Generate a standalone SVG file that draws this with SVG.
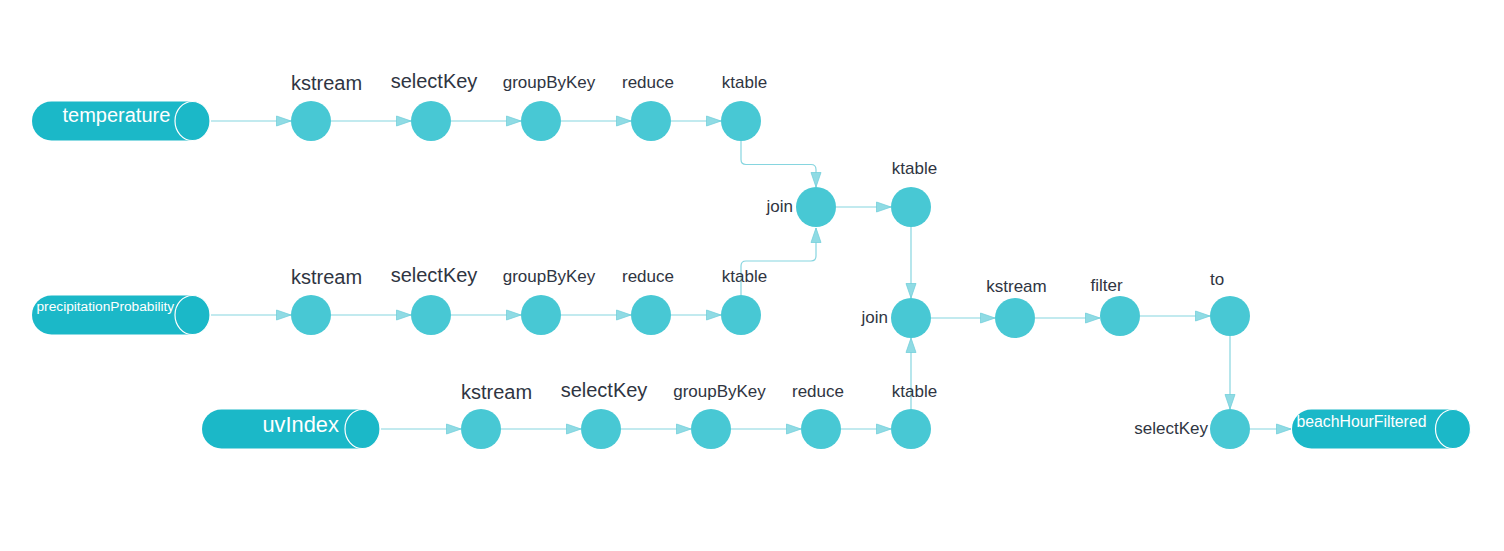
<svg xmlns="http://www.w3.org/2000/svg" width="1504" height="551" viewBox="0 0 1504 551">
<defs>
<marker id="arr" markerUnits="userSpaceOnUse" markerWidth="17" markerHeight="12" refX="15.5" refY="6" orient="auto" viewBox="0 0 17 12">
<path d="M1,1 L15.5,6 L1,11 Z" fill="#8fdbe4" stroke="#74cfdb" stroke-width="0.8"/>
</marker>
<style>
.n{fill:#48c8d4}
.t{fill:#1bb8c8}
.e{fill:#1bb8c8;stroke:#ffffff;stroke-width:1.2}
.c{fill:none;stroke:#86d5df;stroke-width:1.2;marker-end:url(#arr)}
.l{font-family:"Liberation Sans",Arial,sans-serif;fill:#2f3542;font-size:17px;text-anchor:middle}
.lg{font-size:20px}
.r{text-anchor:end}
.w{font-family:"Liberation Sans",Arial,sans-serif;fill:#ffffff}
</style>
</defs>
<rect width="1504" height="551" fill="#ffffff"/>
<g id="connectors">
<path class="c" d="M211 121 H291"/>
<path class="c" d="M331 121 H411"/>
<path class="c" d="M451 121 H521"/>
<path class="c" d="M561 121 H631"/>
<path class="c" d="M671 121 H721"/>
<path class="c" d="M741 141 V159.5 Q741 164.5 746 164.5 H811 Q816 164.5 816 169.5 V187"/>
<path class="c" d="M211 315 H291"/>
<path class="c" d="M331 315 H411"/>
<path class="c" d="M451 315 H521"/>
<path class="c" d="M561 315 H631"/>
<path class="c" d="M671 315 H721"/>
<path class="c" d="M741 295 V266 Q741 261 746 261 H811 Q816 261 816 256 V228"/>
<path class="c" d="M836 207 H891"/>
<path class="c" d="M911 227 V298"/>
<path class="c" d="M381 429 H461"/>
<path class="c" d="M501 429 H581"/>
<path class="c" d="M621 429 H691"/>
<path class="c" d="M731 429 H801"/>
<path class="c" d="M841 429 H891"/>
<path class="c" d="M911 409 V338"/>
<path class="c" d="M931 318 H995"/>
<path class="c" d="M1035 318 H1100"/>
<path class="c" d="M1140 316 H1210"/>
<path class="c" d="M1230 336 V409"/>
<path class="c" d="M1250 429 H1291"/>
</g>
<g id="topic-temperature">
<path class="t" d="M51.5 101.5 H192.5 A17.5 19.5 0 0 1 192.5 140.5 H51.5 A19.5 19.5 0 0 1 51.5 101.5 Z"/>
<ellipse class="e" cx="192.5" cy="121" rx="17.5" ry="19.5"/>
<text class="w" x="62.5" y="122" font-size="20">temperature</text>
</g>
<g id="topic-precipitationProbability">
<path class="t" d="M51.5 295.5 H192.5 A17.5 19.5 0 0 1 192.5 334.5 H51.5 A19.5 19.5 0 0 1 51.5 295.5 Z"/>
<ellipse class="e" cx="192.5" cy="315" rx="17.5" ry="19.5"/>
<text class="w" x="36.5" y="311" font-size="13.7">precipitationProbability</text>
</g>
<g id="topic-uvIndex">
<path class="t" d="M221.5 409.5 H362.5 A17.5 19.5 0 0 1 362.5 448.5 H221.5 A19.5 19.5 0 0 1 221.5 409.5 Z"/>
<ellipse class="e" cx="362.5" cy="429" rx="17.5" ry="19.5"/>
<text class="w" x="262.5" y="432" font-size="21.8">uvIndex</text>
</g>
<g id="topic-beachHourFiltered">
<path class="t" d="M1311.5 409.5 H1453 A17.5 19.5 0 0 1 1453 448.5 H1311.5 A19.5 19.5 0 0 1 1311.5 409.5 Z"/>
<ellipse class="e" cx="1453" cy="429" rx="17.5" ry="19.5"/>
<text class="w" x="1296.5" y="427" font-size="15.8">beachHourFiltered</text>
</g>
<g id="r1-kstream"><circle class="n" cx="311" cy="121" r="20"/><text class="l lg" x="326.5" y="90">kstream</text></g>
<g id="r1-selectKey"><circle class="n" cx="431" cy="121" r="20"/><text class="l lg" x="434" y="88">selectKey</text></g>
<g id="r1-groupByKey"><circle class="n" cx="541" cy="121" r="20"/><text class="l" x="549" y="88">groupByKey</text></g>
<g id="r1-reduce"><circle class="n" cx="651" cy="121" r="20"/><text class="l" x="648" y="88">reduce</text></g>
<g id="r1-ktable"><circle class="n" cx="741" cy="121" r="20"/><text class="l" x="744.5" y="88">ktable</text></g>
<g id="r2-kstream"><circle class="n" cx="311" cy="315" r="20"/><text class="l lg" x="326.5" y="284">kstream</text></g>
<g id="r2-selectKey"><circle class="n" cx="431" cy="315" r="20"/><text class="l lg" x="434" y="282">selectKey</text></g>
<g id="r2-groupByKey"><circle class="n" cx="541" cy="315" r="20"/><text class="l" x="549" y="282">groupByKey</text></g>
<g id="r2-reduce"><circle class="n" cx="651" cy="315" r="20"/><text class="l" x="648" y="282">reduce</text></g>
<g id="r2-ktable"><circle class="n" cx="741" cy="315" r="20"/><text class="l" x="744.5" y="282">ktable</text></g>
<g id="join1"><circle class="n" cx="816" cy="207" r="20"/><text class="l r" x="793" y="212">join</text></g>
<g id="ktable-joined"><circle class="n" cx="911" cy="207" r="20"/><text class="l" x="914.5" y="174">ktable</text></g>
<g id="r3-kstream"><circle class="n" cx="481" cy="429" r="20"/><text class="l lg" x="496.5" y="399">kstream</text></g>
<g id="r3-selectKey"><circle class="n" cx="601" cy="429" r="20"/><text class="l lg" x="604" y="397">selectKey</text></g>
<g id="r3-groupByKey"><circle class="n" cx="711" cy="429" r="20"/><text class="l" x="719.5" y="397">groupByKey</text></g>
<g id="r3-reduce"><circle class="n" cx="821" cy="429" r="20"/><text class="l" x="818" y="397">reduce</text></g>
<g id="r3-ktable"><circle class="n" cx="911" cy="429" r="20"/><text class="l" x="914.5" y="397">ktable</text></g>
<g id="join2"><circle class="n" cx="911" cy="318" r="20"/><text class="l r" x="888" y="323">join</text></g>
<g id="kstream-out"><circle class="n" cx="1015" cy="318" r="20"/><text class="l" x="1016.5" y="292">kstream</text></g>
<g id="filter"><circle class="n" cx="1120" cy="316" r="20"/><text class="l" x="1106.5" y="291">filter</text></g>
<g id="to"><circle class="n" cx="1230" cy="316" r="20"/><text class="l" x="1217" y="285">to</text></g>
<g id="selectKey-out"><circle class="n" cx="1230" cy="429" r="20"/><text class="l r" x="1208" y="433.5" font-size="17.5">selectKey</text></g>
</svg>
